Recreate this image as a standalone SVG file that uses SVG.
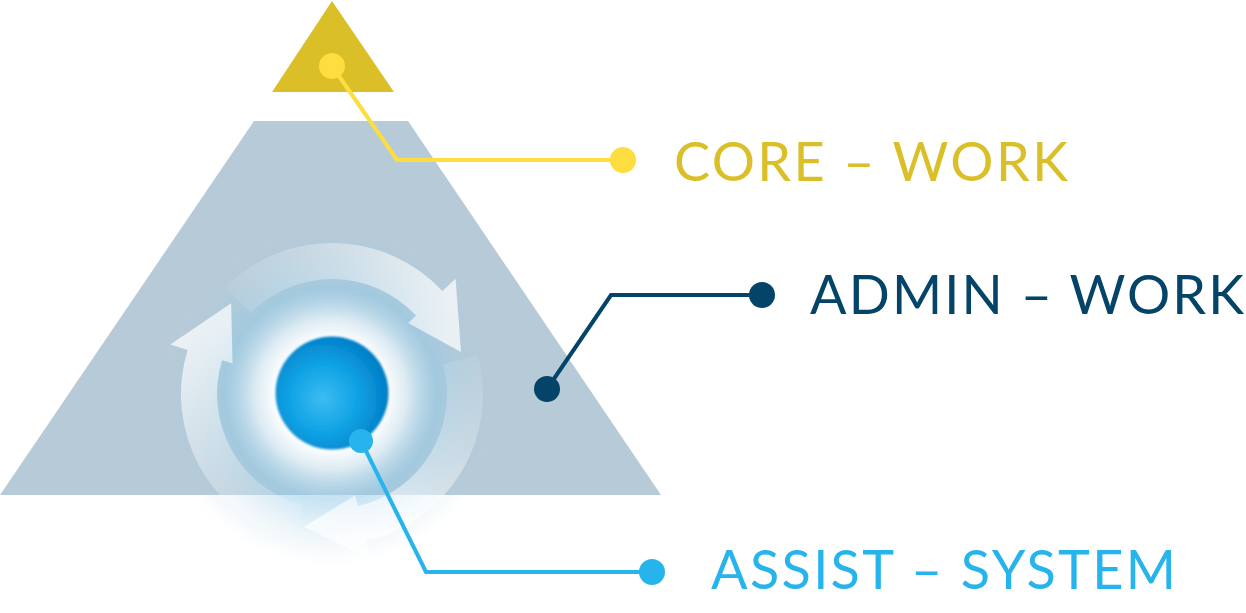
<svg xmlns="http://www.w3.org/2000/svg" width="1246" height="613" viewBox="0 0 1246 613">
  <defs>
    <style>
      .lbl { font-family: Lato, "Noto Sans", "Liberation Sans", sans-serif; font-size: 54px; font-weight: 400; }
      .conn { fill: none; stroke-width: 4; stroke-linejoin: miter; }
      .arrow { fill: url(#arrowGrad); }
    </style>
    <radialGradient id="glow" cx="331" cy="394" r="172" gradientUnits="userSpaceOnUse">
      <stop offset="0.32" stop-color="#ffffff" stop-opacity="1"/>
      <stop offset="0.44" stop-color="#e4f1f8" stop-opacity="0.85"/>
      <stop offset="0.62" stop-color="#8ec8e6" stop-opacity="0.5"/>
      <stop offset="0.82" stop-color="#9ccbe4" stop-opacity="0.18"/>
      <stop offset="1" stop-color="#b7d3e4" stop-opacity="0"/>
    </radialGradient>
    <radialGradient id="sphere" cx="0.42" cy="0.55" r="0.62">
      <stop offset="0" stop-color="#3dbcf2"/>
      <stop offset="0.5" stop-color="#0ea2e3"/>
      <stop offset="1" stop-color="#0079c3"/>
    </radialGradient>
    <linearGradient id="arrowGrad" gradientUnits="userSpaceOnUse" x1="-110" y1="-60" x2="115" y2="-60">
      <stop offset="0" stop-color="#ffffff" stop-opacity="0.05"/>
      <stop offset="0.5" stop-color="#ffffff" stop-opacity="0.35"/>
      <stop offset="1" stop-color="#ffffff" stop-opacity="0.72"/>
    </linearGradient>
    <path id="arc" d="M -81.3,-81.3 L -106.8,-106.8 A 151 151 0 0 1 110.4,-103.0 L 123.6,-115.3 L 129,-42 L 76.1,-70.9 L 84.1,-78.4 A 115 115 0 0 0 -81.3,-81.3 Z"/>
    <filter id="soft" x="-10%" y="-10%" width="120%" height="120%">
      <feGaussianBlur stdDeviation="0.8"/>
    </filter>
  </defs>

  <g id="admin-pyramid">
    <polygon points="254,121 408,121 661,495 0,495" fill="#b7cad7"/>
  </g>

  <g id="core-triangle">
    <polygon points="332,1 272,92 394,92" fill="#dbbf28"/>
  </g>

  <g id="assist-cycle">
    <circle cx="331" cy="394" r="172" fill="url(#glow)"/>
    <g transform="translate(332,394)">
      <use href="#arc" class="arrow"/>
      <use href="#arc" class="arrow" transform="rotate(120)"/>
      <use href="#arc" class="arrow" transform="rotate(240)"/>
    </g>
    <circle cx="332" cy="393" r="56.5" fill="url(#sphere)" filter="url(#soft)"/>
  </g>

  <g id="connectors">
    <polyline class="conn" stroke="#fddd3f" points="332,66 397,160 623,160"/>
    <polyline class="conn" stroke="#034468" points="547,389 611,295 762,295"/>
    <polyline class="conn" stroke="#27b3ec" points="361,441 426,572 652,572"/>
  </g>

  <g id="core-work">
    <circle cx="332" cy="66" r="13" fill="#fddd3f"/>
    <circle cx="623" cy="160" r="13" fill="#fddd3f"/>
    <text class="lbl" x="674" y="181" fill="#dbbf28" textLength="394" lengthAdjust="spacing">CORE – WORK</text>
  </g>

  <g id="admin-work">
    <circle cx="547" cy="389" r="13" fill="#034468"/>
    <circle cx="762" cy="295" r="13" fill="#034468"/>
    <text class="lbl" x="810" y="314" fill="#034468" textLength="434" lengthAdjust="spacing">ADMIN – WORK</text>
  </g>

  <g id="assist-system">
    <circle cx="361" cy="441" r="12" fill="#27b3ec"/>
    <circle cx="652" cy="572" r="13" fill="#27b3ec"/>
    <text class="lbl" x="711" y="589" fill="#27b3ec" textLength="465" lengthAdjust="spacing">ASSIST – SYSTEM</text>
  </g>
</svg>
